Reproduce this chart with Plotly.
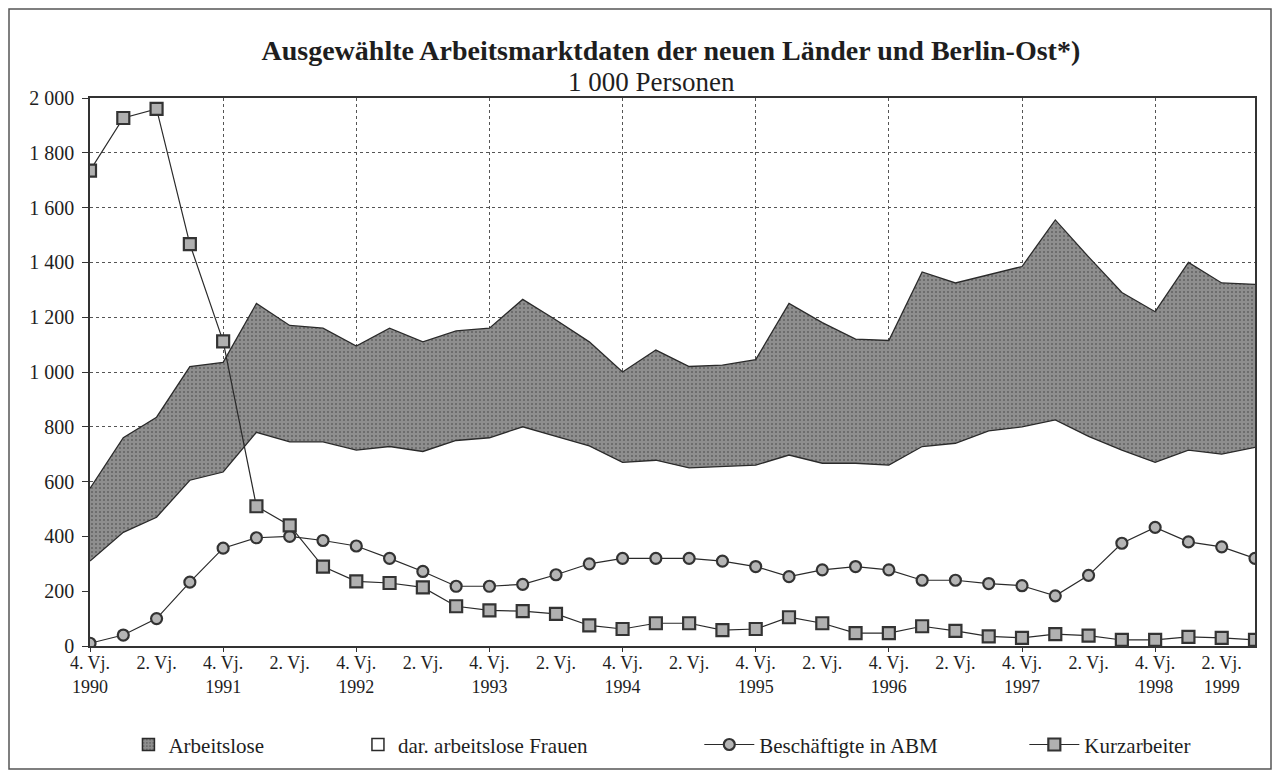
import plotly.graph_objects as go

# Quartale 4. Vj. 1990 bis 3. Vj. 1999 (Index 0..35)
QUARTER_INDEX = list(range(36))

# Tausend Personen
ARBEITSLOSE = [
    575, 760, 835, 1020, 1035, 1250, 1170, 1160, 1095, 1160,
    1110, 1150, 1160, 1265, 1190, 1110, 1000, 1080, 1020, 1025,
    1045, 1250, 1180, 1120, 1115, 1365, 1325, 1355, 1385, 1555,
    1420, 1290, 1220, 1400, 1325, 1320,
]
FRAUEN = [
    310, 415, 470, 605, 635, 780, 745, 745, 715, 728,
    710, 750, 760, 800, 765, 730, 670, 678, 650, 655,
    660, 697, 667, 667, 660, 728, 740, 785, 800, 825,
    765, 715, 670, 715, 700, 725,
]
ABM = [
    10, 40, 100, 233, 357, 395, 400, 385, 365, 320,
    272, 218, 218, 225, 260, 300, 320, 320, 320, 310,
    290, 253, 278, 290, 278, 240, 240, 228, 220, 183,
    258, 375, 433, 380, 362, 320,
]
KURZARBEITER = [
    1735, 1927, 1960, 1467, 1112, 510, 440, 290, 236, 230,
    214, 145, 130, 127, 117, 75, 62, 83, 83, 58,
    62, 105, 83, 47, 47, 72, 55, 35, 30, 43,
    38, 22, 22, 33, 30, 22,
]

TICK_POS = list(range(0, 36, 2))
TICK_TEXT = [
    "4. Vj.<br>1990", "2. Vj.", "4. Vj.<br>1991", "2. Vj.", "4. Vj.<br>1992",
    "2. Vj.", "4. Vj.<br>1993", "2. Vj.", "4. Vj.<br>1994", "2. Vj.",
    "4. Vj.<br>1995", "2. Vj.", "4. Vj.<br>1996", "2. Vj.", "4. Vj.<br>1997",
    "2. Vj.", "4. Vj.<br>1998", "2. Vj.<br>1999",
]

SERIF = "Liberation Serif, Times New Roman, serif"
INK = "#2a2a2a"
AREA_GREY = "#8e8e8e"
AREA_PATTERN = dict(shape=".", bgcolor=AREA_GREY, fgcolor="#333333", size=4, solidity=0.2)

fig = go.Figure()

# Flächen (Legende über eigene Kästchen, damit sie umrandet sind)
fig.add_trace(go.Scatter(
    x=QUARTER_INDEX, y=ARBEITSLOSE, name="Arbeitslose", showlegend=False,
    mode="lines", fill="tozeroy",
    line=dict(color=INK, width=1.3),
    fillcolor=AREA_GREY, fillpattern=AREA_PATTERN,
))
fig.add_trace(go.Scatter(
    x=QUARTER_INDEX, y=FRAUEN, name="dar. arbeitslose Frauen", showlegend=False,
    mode="lines", fill="tozeroy",
    line=dict(color=INK, width=1.3),
    fillcolor="white",
))
fig.add_trace(go.Bar(
    x=[None], y=[None], name="Arbeitslose", legend="legend",
    marker=dict(color=AREA_GREY, pattern=AREA_PATTERN, line=dict(color=INK, width=1.5)),
))
fig.add_trace(go.Bar(
    x=[None], y=[None], name="dar. arbeitslose Frauen", legend="legend2",
    marker=dict(color="white", line=dict(color=INK, width=1.5)),
))
# Linien auf der überlagerten Achse x2 (die die senkrechten Gitterlinien trägt)
fig.add_trace(go.Scatter(
    x=QUARTER_INDEX, y=ABM, name="Beschäftigte in ABM", legend="legend3",
    xaxis="x2", mode="lines+markers",
    line=dict(color=INK, width=1.2),
    marker=dict(symbol="circle", size=11, color="#b5b5b5",
                line=dict(color="#333333", width=2.2)),
))
fig.add_trace(go.Scatter(
    x=QUARTER_INDEX, y=KURZARBEITER, name="Kurzarbeiter", legend="legend4",
    xaxis="x2", mode="lines+markers",
    line=dict(color=INK, width=1.2),
    marker=dict(symbol="square", size=12, color="#b0b0b0",
                line=dict(color="#333333", width=2.2)),
))

legend_base = dict(yref="container", y=0.033, yanchor="middle", xanchor="left",
                   font=dict(size=21), bgcolor="rgba(0,0,0,0)")

fig.update_layout(
    width=1265, height=762,
    paper_bgcolor="white", plot_bgcolor="white",
    font=dict(family=SERIF, color="#1e1e1e", size=18),
    margin=dict(l=82, r=18, t=90, b=124),
    separators=", ",
    title=dict(
        text="<b>Ausgewählte Arbeitsmarktdaten der neuen Länder und Berlin-Ost*)</b>",
        font=dict(family=SERIF, size=28, color="#1e1e1e"),
        x=0.524, xanchor="center", y=0.945, yanchor="middle",
    ),
    annotations=[dict(
        text="1 000 Personen", xref="paper", yref="paper",
        x=0.482, y=1.029, xanchor="center", yanchor="middle",
        showarrow=False, font=dict(family=SERIF, size=27, color="#1e1e1e"),
    )],
    xaxis=dict(
        range=[0, 35], tickvals=TICK_POS, ticktext=TICK_TEXT,
        showgrid=False, zeroline=False, ticks="", automargin=False,
        showline=True, linecolor="#333", linewidth=1.5, mirror=True,
        tickfont=dict(size=18),
    ),
    xaxis2=dict(
        overlaying="x", anchor="y", range=[0, 35], automargin=False,
        tickvals=list(range(0, 36, 4)), showticklabels=False,
        showgrid=True, gridcolor="#555", griddash="dot", gridwidth=1,
        ticks="outside", ticklen=5, tickcolor="#333", zeroline=False,
    ),
    yaxis=dict(
        range=[0, 2000], dtick=200, tickformat=",d", automargin=False,
        showgrid=True, gridcolor="#555", griddash="dot", gridwidth=1,
        zeroline=False, ticks="outside", ticklen=6, tickcolor="#333",
        showline=True, linecolor="#333", linewidth=1.5, mirror=True,
        tickfont=dict(size=20), ticklabelstandoff=4,
    ),
    legend=dict(legend_base, x=0.033),
    legend2=dict(legend_base, x=0.230),
    legend3=dict(legend_base, x=0.523, itemwidth=50),
    legend4=dict(legend_base, x=0.802, itemwidth=50),
    shapes=[dict(
        type="rect", xref="paper", yref="paper",
        x0=-81 / 1165, x1=1 + 16 / 1165, y0=-123 / 548, y1=1 + 89 / 548,
        line=dict(color="#555", width=1.5), layer="below",
    )],
)

fig.write_html("out.html")
